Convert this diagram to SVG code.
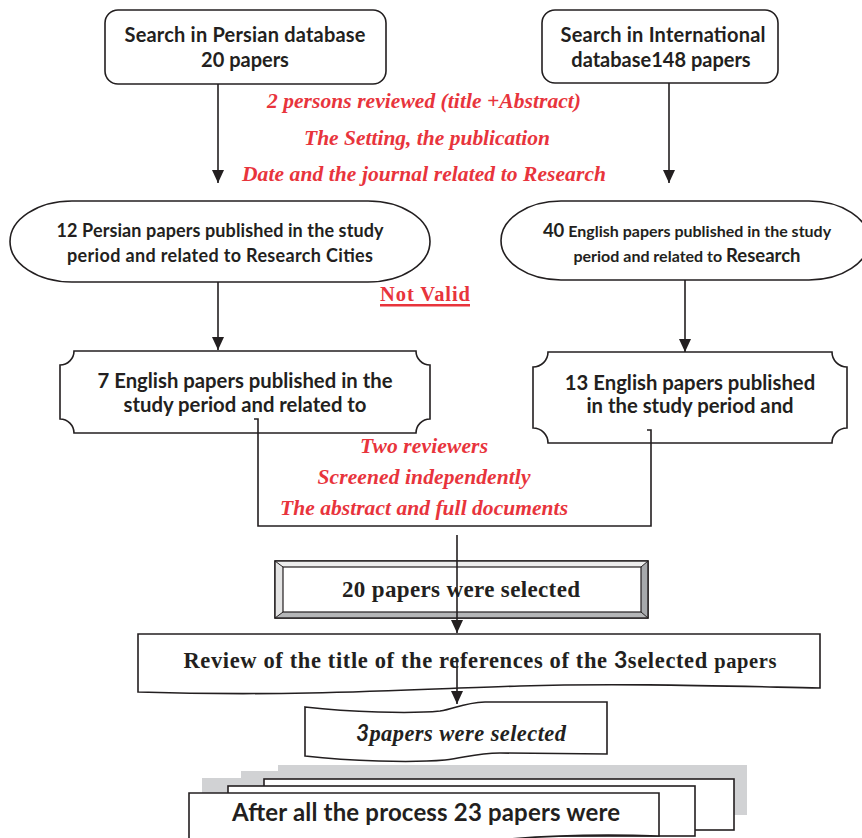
<svg xmlns="http://www.w3.org/2000/svg" width="862" height="838" viewBox="0 0 862 838">
<defs>
<marker id="ah" markerUnits="userSpaceOnUse" markerWidth="14" markerHeight="16" refX="13" refY="6" orient="auto">
<path d="M0,0 L13,6 L0,12 Z" fill="#231f20"/>
</marker>
<style>
.shape{fill:#fff;stroke:#231f20;stroke-width:1.6}
.sans{font-family:Lato,"Open Sans","DejaVu Sans",sans-serif;font-weight:bold;fill:#231f20;text-anchor:middle}
.serif{font-family:"Liberation Serif","Times New Roman",serif;font-weight:bold;fill:#231f20;text-anchor:middle}
.red{font-family:"Liberation Serif","Times New Roman",serif;font-weight:bold;font-style:italic;fill:#e8343c;text-anchor:middle}
.redn{font-family:"Liberation Serif","Times New Roman",serif;font-weight:bold;fill:#e8343c;text-anchor:middle}
.conn{fill:none;stroke:#231f20;stroke-width:1.6}
</style>
</defs>
<rect width="862" height="838" fill="#fff"/>

<g id="persian-search">
<rect class="shape" x="105" y="10" width="281" height="74" rx="13"/>
<text class="sans" x="245" y="42" font-size="20" textLength="241">Search in Persian database</text>
<text class="sans" x="245" y="67" font-size="20">20 papers</text>
</g>

<g id="intl-search">
<rect class="shape" x="542" y="10" width="236" height="73" rx="13"/>
<text class="sans" x="663" y="42" font-size="20" textLength="205">Search in International</text>
<text class="sans" x="661" y="67" font-size="20">database148 papers</text>
</g>

<g id="criteria-note">
<text class="red" x="424" y="108" font-size="21.5" textLength="314">2 persons reviewed (title +Abstract)</text>
<text class="red" x="427" y="145" font-size="21.5" textLength="246">The Setting, the publication</text>
<text class="red" x="424" y="181" font-size="21.5" textLength="364">Date and the journal related to Research</text>
</g>

<g id="persian-12">
<rect class="shape" x="10" y="201" width="420" height="81" rx="62" ry="40.5"/>
<text class="sans" x="220" y="237" font-size="18" textLength="327">12 Persian papers published in the study</text>
<text class="sans" x="220" y="262" font-size="18" textLength="306">period and related to Research Cities</text>
</g>

<g id="english-40">
<rect class="shape" x="501" y="201" width="368" height="79" rx="60" ry="39.5"/>
<text class="sans" x="687" y="237" font-size="16"><tspan font-size="18.5">40</tspan> English papers published in the study</text>
<text class="sans" x="687" y="262" font-size="16">period and related to <tspan font-size="18.5">Research</tspan></text>
</g>

<g id="not-valid">
<text class="redn" x="425" y="301" font-size="20.5" textLength="90">Not Valid</text>
<rect x="380" y="304" width="90" height="2.5" fill="#e8343c"/>
</g>

<g id="english-7">
<path class="shape" d="M74,351 H416 A14,14 0 0 0 430,365 V419 A14,14 0 0 0 416,433 H74 A14,14 0 0 0 60,419 V365 A14,14 0 0 0 74,351 Z"/>
<text class="sans" x="245" y="388" font-size="20.3" textLength="295">7 English papers published in the</text>
<text class="sans" x="245" y="412" font-size="20.3">study period and related to</text>
</g>

<g id="english-13">
<path class="shape" d="M548,352 H832 A15,15 0 0 0 847,367 V428 A15,15 0 0 0 832,443 H548 A15,15 0 0 0 533,428 V367 A15,15 0 0 0 548,352 Z"/>
<text class="sans" x="690" y="390" font-size="20.3">13 English papers published</text>
<text class="sans" x="690" y="413" font-size="20.3">in the study period and</text>
</g>

<g id="screening-note">
<text class="red" x="424" y="453" font-size="21.5" textLength="128">Two reviewers</text>
<text class="red" x="424" y="484" font-size="21.5" textLength="213">Screened independently</text>
<text class="red" x="424" y="515" font-size="21.5" textLength="288">The abstract and full documents</text>
</g>

<g id="selected-20">
<rect x="275" y="561" width="373" height="57" fill="#fff" stroke="#231f20" stroke-width="1.4"/>
<polygon points="275,561 648,561 641,567 283,567" fill="#ededed"/>
<polygon points="275,561 283,567 283,612 275,618" fill="#e4e4e4"/>
<polygon points="648,561 648,618 641,612 641,567" fill="#a7a9ac"/>
<polygon points="275,618 648,618 641,612 283,612" fill="#b5b6b8"/>
<rect x="275" y="561" width="373" height="57" fill="none" stroke="#231f20" stroke-width="1.4"/>
<rect x="283" y="567" width="358" height="45" fill="#fff" stroke="#231f20" stroke-width="1.2"/>
<line x1="275" y1="561" x2="283" y2="567" stroke="#231f20" stroke-width="1"/>
<line x1="648" y1="561" x2="641" y2="567" stroke="#231f20" stroke-width="1"/>
<line x1="275" y1="618" x2="283" y2="612" stroke="#231f20" stroke-width="1"/>
<line x1="648" y1="618" x2="641" y2="612" stroke="#231f20" stroke-width="1"/>
<text class="serif" x="461" y="597" font-size="23" textLength="238">20 papers were selected</text>
</g>

<g id="review-refs">
<path class="shape" d="M138,634 H820 V688 C720,686 620,683 520,686 C420,689 300,697 138,692 Z"/>
<text class="serif" x="480" y="668" font-size="22.5" textLength="593">Review of the title of the references of the  <tspan font-family="Lato,'Open Sans',sans-serif" font-size="23">3</tspan>selected <tspan font-size="20.5">papers</tspan></text>
</g>

<g id="selected-3">
<path class="shape" d="M305,707 C350,712 410,714 440,711 C455,709 462,703 485,702 L607,702 V754 L500,753 C475,753 465,758 445,760 C410,763 350,761 305,756 Z"/>
<text class="serif" x="461" y="741" font-size="22.5" font-style="italic" textLength="210"><tspan font-family="Lato,'Open Sans',sans-serif" font-style="italic">3</tspan>papers were selected</text>
</g>

<g id="final-23">
<polygon points="202,778 241,778 241,771 278,771 278,765 747,765 747,815 202,815" fill="#d1d2d4"/>
<rect class="shape" x="264" y="779" width="470" height="51"/>
<rect class="shape" x="228" y="786" width="467" height="50"/>
<path class="shape" d="M189,793 H659 V836 C600,834 540,835 480,842 L189,852 Z"/>
<text class="sans" x="426" y="821" font-size="24" textLength="388">After all the process 23 papers were</text>
</g>

<g id="connectors">
<line class="conn" x1="218" y1="84" x2="218" y2="183" marker-end="url(#ah)"/>
<line class="conn" x1="669" y1="83" x2="669" y2="183" marker-end="url(#ah)"/>
<line class="conn" x1="218" y1="282" x2="218" y2="350" marker-end="url(#ah)"/>
<line class="conn" x1="685" y1="280" x2="685" y2="352" marker-end="url(#ah)"/>
<path class="conn" d="M254,419 H258 V526 H651 V430 H647"/>
<line class="conn" x1="457" y1="535" x2="457" y2="633" marker-end="url(#ah)"/>
<line class="conn" x1="457" y1="660" x2="457" y2="704" marker-end="url(#ah)"/>
</g>
</svg>
